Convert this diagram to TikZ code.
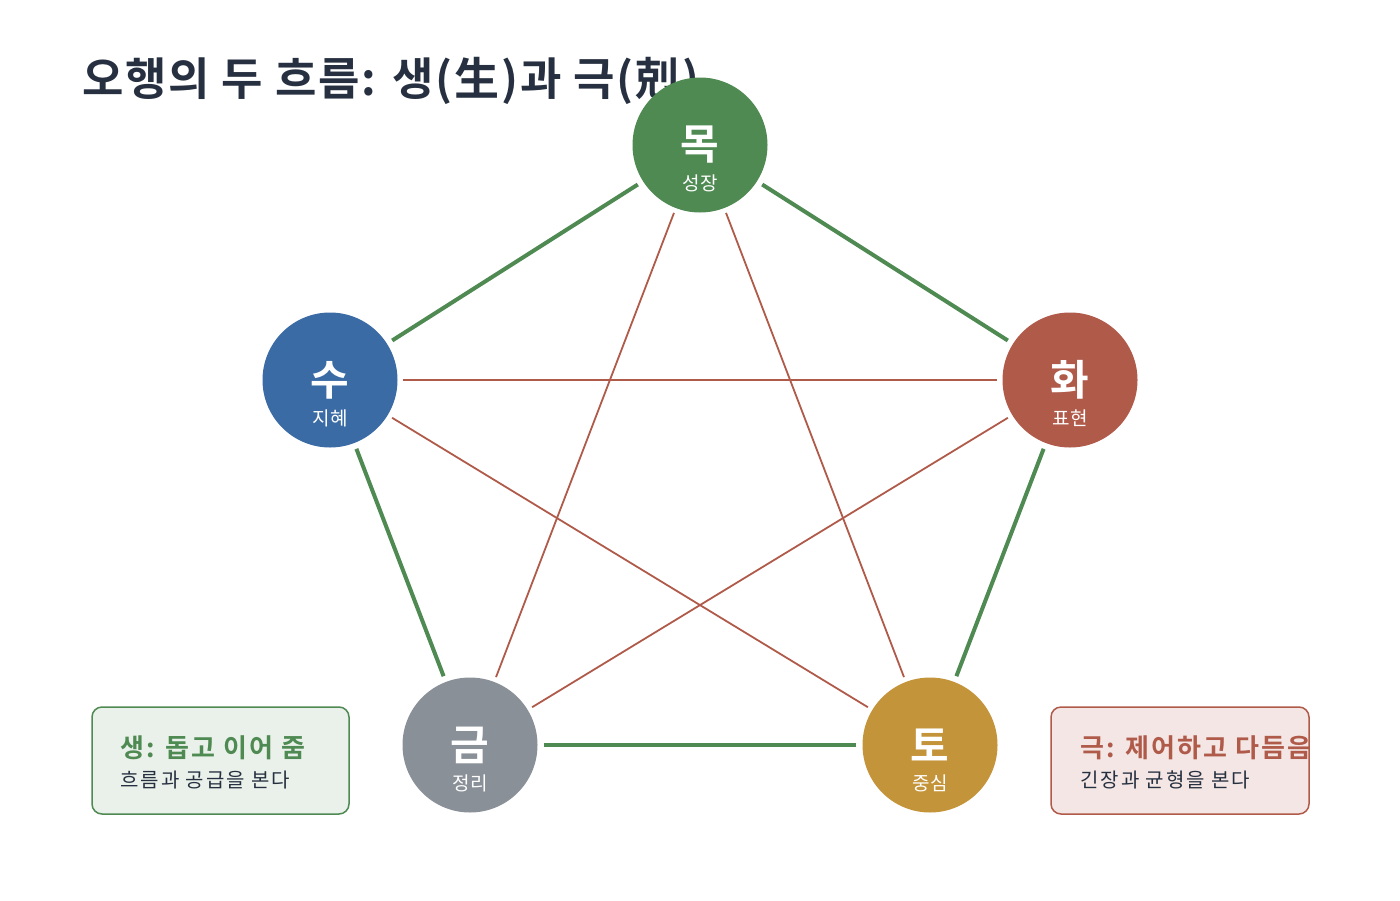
\documentclass[tikz,border=0pt]{standalone}
\usepackage{fontspec}
\setmainfont{Noto Sans CJK KR}[BoldFont={Noto Sans CJK KR Bold}]
\definecolor{mok}{HTML}{4E8A52}
\definecolor{hwa}{HTML}{B05A4A}
\definecolor{su}{HTML}{3B6BA5}
\definecolor{geum}{HTML}{8A9097}
\definecolor{to}{HTML}{C4943A}
\definecolor{ink}{HTML}{263040}
\tikzset{
  el/.style={circle,minimum size=135pt,inner sep=0pt},
  big/.style={text=white,inner sep=0pt,font=\fontsize{42}{42}\selectfont\bfseries},
  small/.style={text=white,inner sep=0pt,font=\fontsize{19}{19}\selectfont\addfontfeature{LetterSpace=4}},
  saeng/.style={draw=mok,line width=4pt,shorten <=6pt,shorten >=6pt},
  geuk/.style={draw=hwa,line width=1.8pt,shorten <=5pt,shorten >=5pt},
  legend/.style={rounded corners=10pt,line width=1.5pt}
}
\begin{document}
\begin{tikzpicture}[x=1pt,y=-1pt]
\useasboundingbox (0,0) rectangle (1400,900);
\node[anchor=base west,text=ink,font=\fontsize{45}{45}\selectfont\bfseries\addfontfeature{LetterSpace=4},inner sep=0pt] (title) at (82,95) {오행의 두 흐름: 생(生)과 극(剋)};
\foreach \n/\c/\x/\y/\a/\b in {m/mok/700/145/목/성장, h/hwa/1070/380/화/표현, s/su/330/380/수/지혜, g/geum/470/745/금/정리, t/to/930/745/토/중심}{
  \node[el,fill=\c] (\n) at (\x,\y) {};
  \node[big] (\n big) at (\x,\y) {\a};
  \node[small] (\n small) at (\x,\y+38) {\b};
}
\draw[saeng] (m) -- (h);
\draw[saeng] (h) -- (t);
\draw[saeng] (t) -- (g);
\draw[saeng] (g) -- (s);
\draw[saeng] (s) -- (m);
\draw[geuk] (m) -- (t);
\draw[geuk] (m) -- (g);
\draw[geuk] (s) -- (h);
\draw[geuk] (s) -- (t);
\draw[geuk] (h) -- (g);
\draw[legend,draw=mok,fill=mok!12] (92,707) rectangle (349,814);
\node[anchor=base west,inner sep=0pt,text=mok,font=\fontsize{26}{26}\selectfont\bfseries\addfontfeature{LetterSpace=8}] (l1) at (120,757) {생: 돕고 이어 줌};
\node[anchor=base west,inner sep=0pt,text=ink,font=\fontsize{20}{20}\selectfont\addfontfeature{LetterSpace=10}] (l2) at (120,787) {흐름과 공급을 본다};
\draw[legend,draw=hwa,fill=hwa!15] (1051,707) rectangle (1309,814);
\node[anchor=base west,inner sep=0pt,text=hwa,font=\fontsize{26}{26}\selectfont\bfseries\addfontfeature{LetterSpace=8}] (r1) at (1080,757) {극: 제어하고 다듬음};
\node[anchor=base west,inner sep=0pt,text=ink,font=\fontsize{20}{20}\selectfont\addfontfeature{LetterSpace=10}] (r2) at (1080,787) {긴장과 균형을 본다};
\end{tikzpicture}
\end{document}
